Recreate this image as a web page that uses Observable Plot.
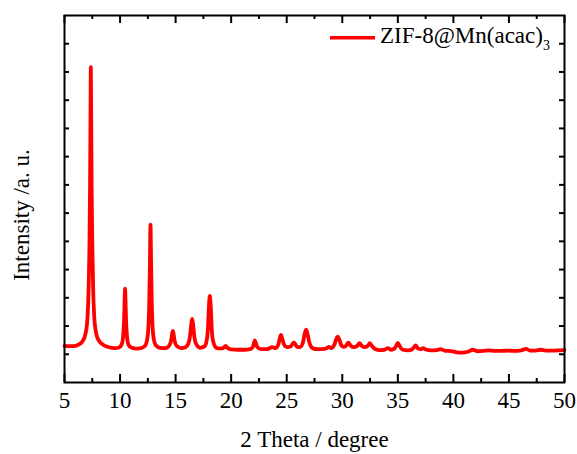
<!DOCTYPE html>
<html><head><meta charset="utf-8">
<script src="https://cdn.jsdelivr.net/npm/d3@7"></script>
<script src="https://cdn.jsdelivr.net/npm/@observablehq/plot@0.6"></script>
<style>body{margin:0;background:#fff;} svg text{font-family:'Liberation Serif','Times New Roman',serif;}</style>
</head><body><div id="chart"></div>
<script>
// ---- data ----
const twoTheta = [
  5.0,5.5,6.0,6.3,6.6,6.8,6.95,7.07,7.17,7.25,7.3,7.34,7.37,7.4,7.44,7.5,7.58,7.68,7.8,7.95,8.15,8.5,9.0,9.5,
  9.9,10.15,10.28,10.36,10.41,10.45,10.49,10.54,10.62,10.75,11.0,11.5,12.0,
  12.3,12.45,12.55,12.63,12.69,12.74,12.79,12.85,12.93,13.03,13.2,13.6,14.1,
  14.45,14.6,14.7,14.75,14.8,14.9,15.05,15.5,15.9,
  16.15,16.3,16.42,16.49,16.56,16.68,16.83,17.2,17.6,
  17.78,17.9,18.0,18.08,18.16,18.26,18.38,18.7,19.2,
  19.35,19.5,19.65,20.0,20.6,21.2,21.7,
  21.95,22.05,22.13,22.22,22.35,22.7,23.2,23.7,24.0,
  24.25,24.38,24.48,24.58,24.75,25.05,
  25.4,25.55,25.64,25.75,25.95,26.15,
  26.45,26.6,26.75,26.88,27.05,27.35,27.8,28.4,
  28.65,28.8,29.0,
  29.3,29.45,29.6,29.72,29.9,30.1,
  30.35,30.55,30.75,31.05,
  31.35,31.55,31.75,32.0,
  32.3,32.48,32.68,32.95,33.4,33.8,
  34.1,34.4,34.7,
  34.85,35.0,35.15,35.4,35.9,36.3,
  36.45,36.6,36.8,37.05,37.28,37.5,38.0,38.5,38.85,39.2,39.8,40.3,40.8,41.3,41.75,42.2,42.7,43.2,43.7,44.3,44.85,45.5,46.1,46.55,46.9,47.4,47.85,48.3,49.0,49.5,50.0
];
const intensity = [
  1300,1290,1300,1350,1450,1600,1850,2300,3300,5000,7000,9500,11170,9500,7000,5000,3300,2300,1850,1600,1450,1330,1250,1220,
  1240,1350,1650,2200,2900,3320,2900,2200,1650,1350,1240,1200,1230,
  1330,1550,1950,2900,4300,5590,4300,2900,1950,1550,1330,1230,1220,
  1320,1500,1760,1830,1760,1500,1320,1220,1250,
  1380,1650,2100,2250,2100,1650,1380,1230,1280,
  1450,1850,2700,3070,2700,1850,1450,1220,1210,
  1240,1300,1230,1170,1160,1160,1180,
  1260,1400,1490,1400,1260,1180,1180,1250,1220,
  1350,1580,1690,1580,1350,1250,
  1290,1380,1410,1370,1260,1250,
  1400,1700,1870,1700,1400,1210,1180,1190,
  1230,1260,1220,
  1350,1530,1620,1530,1330,1260,
  1310,1410,1310,1250,
  1300,1390,1300,1250,
  1300,1390,1290,1190,1150,1160,
  1220,1160,1200,
  1300,1400,1300,1170,1140,1180,
  1250,1310,1210,1180,1220,1170,1140,1150,1180,1130,1110,1070,1060,1090,1160,1110,1120,1140,1120,1120,1130,1120,1140,1190,1130,1130,1160,1130,1130,1140,1150
];
const xMajorTicks = [5,10,15,20,25,30,35,40,45,50];
const xMinorTicks = [7.5,12.5,17.5,22.5,27.5,32.5,37.5,42.5,47.5];
const yTicks = [1000,2000,3000,4000,5000,6000,7000,8000,9000,10000,11000,12000];
const yDomain = [0,13000];
const xDomain = [5,50];
const seriesName = "ZIF-8@Mn(acac)";
const seriesSub = "3";
const xLabel = "2 Theta / degree";
const yLabel = "Intensity /a. u.";

// ---- chart ----
const data = twoTheta.map((x,i)=>({x, y:intensity[i]}));
const W=577, H=454, mt=15, mb=72, ml=64, mr=13;
const iw = W-ml-mr, ih = H-mt-mb;
const font = "'Liberation Serif','Times New Roman',serif";
const red = "#ff0000";

function legendMark(index, scales, values, dims) {
  const g = d3.create("svg:g");
  const x0 = dims.width - dims.marginRight - 234;
  const y0 = dims.marginTop + 22.7;
  g.append("line").attr("x1",x0).attr("x2",x0+45).attr("y1",y0).attr("y2",y0)
    .attr("stroke",red).attr("stroke-width",3.5);
  const t = g.append("text").attr("x",x0+50).attr("y",y0+5.6)
    .attr("text-anchor","start")
    .attr("font-size",23).attr("font-family",font).attr("fill","black");
  t.append("tspan").text(seriesName);
  t.append("tspan").attr("font-size",14).attr("dy",7).text(seriesSub);
  return g.node();
}

const chart = Plot.plot({
  width: W, height: H,
  marginTop: mt, marginBottom: mb, marginLeft: ml, marginRight: mr,
  style: {fontFamily: font, fontSize: "23px", background: "white", color: "black"},
  x: {domain: xDomain},
  y: {domain: yDomain, axis: null},
  marks: [
    Plot.line(data, {x:"x", y:"y", stroke:red, strokeWidth:3.8, curve:"monotone-x", strokeLinejoin:"round", strokeLinecap:"round"}),
    Plot.ruleX(xMajorTicks, {x:d=>d, insetTop: ih-8, stroke:"black", strokeWidth:2}),
    Plot.ruleX(xMinorTicks, {x:d=>d, insetTop: ih-4, stroke:"black", strokeWidth:2}),
    Plot.ruleX(xMajorTicks, {x:d=>d, insetBottom: ih-8, stroke:"black", strokeWidth:2}),
    Plot.ruleX(xMinorTicks, {x:d=>d, insetBottom: ih-4, stroke:"black", strokeWidth:2}),
    Plot.ruleY(yTicks, {y:d=>d, insetRight: iw-5, stroke:"black", strokeWidth:2}),
    Plot.ruleY(yTicks, {y:d=>d, insetLeft: iw-5, stroke:"black", strokeWidth:2}),
    Plot.frame({stroke:"black", strokeWidth:2}),
    Plot.axisX(xMajorTicks, {tickSize:0, tickPadding:9, tickFormat:d=>String(d), label:null, fontSize:23, fontFamily:font}),
    Plot.text([xLabel], {text:d=>d, frameAnchor:"bottom", dy:48.5, lineAnchor:"top", fontSize:23, fontFamily:font}),
    Plot.text([yLabel], {text:d=>d, frameAnchor:"left", textAnchor:"middle", rotate:-90, dx:-35.7, dy:16, lineAnchor:"bottom", fontSize:23, fontFamily:font}),
    legendMark
  ]
});
document.getElementById("chart").appendChild(chart);
</script>
</body></html>
